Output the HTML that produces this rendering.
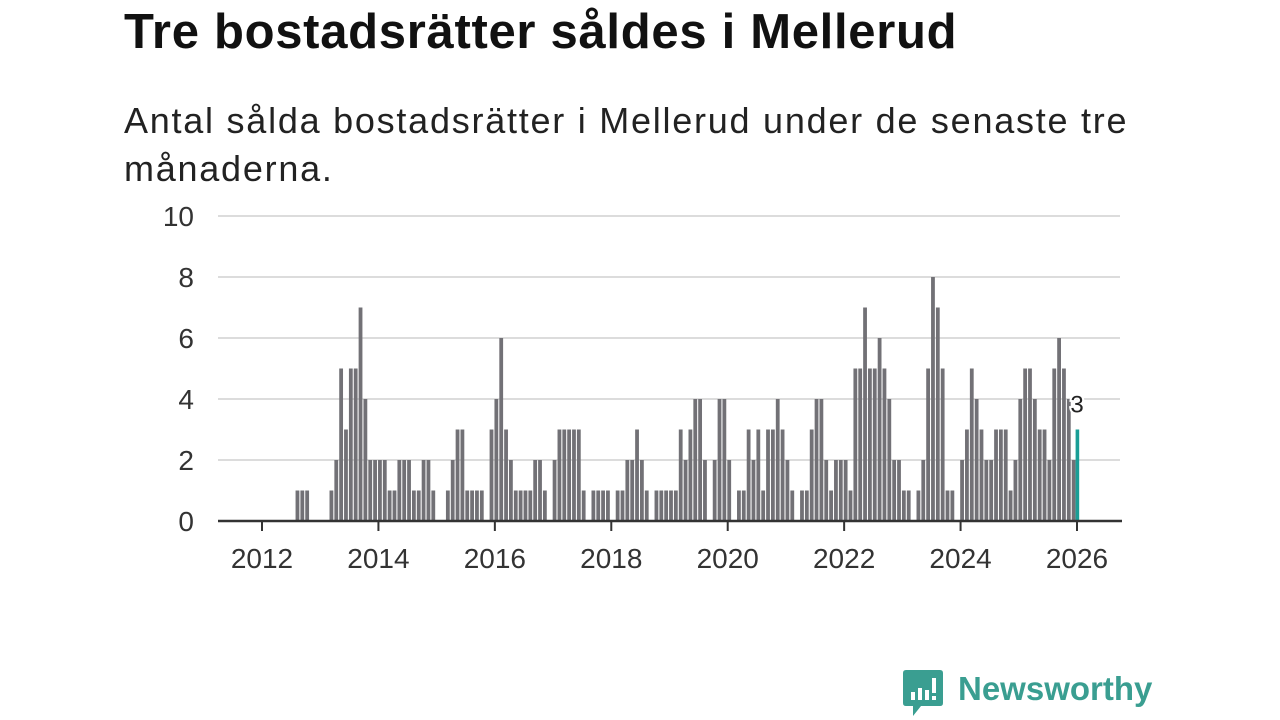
<!DOCTYPE html>
<html><head><meta charset="utf-8">
<style>
body{margin:0;width:1280px;height:720px;background:#fff;overflow:hidden;font-family:"Liberation Sans",sans-serif;}
#title{position:absolute;left:124px;top:4px;font-size:49px;font-weight:bold;color:#111;margin:0;letter-spacing:0.7px;}
#sub{position:absolute;left:124px;top:97px;font-size:36px;color:#222;line-height:48px;width:1040px;margin:0;letter-spacing:1.75px;}
svg{position:absolute;left:0;top:0;}
#logo{position:absolute;left:903px;top:670px;}
#brand{position:absolute;left:958px;top:670px;font-size:33px;font-weight:bold;color:#3a9e91;}
</style></head><body>
<h1 id="title">Tre bostadsrätter såldes i Mellerud</h1>
<p id="sub">Antal sålda bostadsrätter i Mellerud under de senaste tre månaderna.</p>
<svg id="chart" width="1280" height="720"></svg>
<svg id="logo" width="40" height="48" viewBox="0 0 40 48">
<path d="M3 0H37Q40 0 40 3V33Q40 36 37 36H18L10 46V36H3Q0 36 0 33V3Q0 0 3 0Z" fill="#3a9e91"/>
<rect x="8" y="22" width="4" height="8" fill="#fff"/><rect x="15" y="18" width="4" height="12" fill="#fff"/><rect x="22" y="20" width="4" height="10" fill="#fff"/><rect x="29" y="8" width="4" height="15" fill="#fff"/><rect x="29" y="26" width="4" height="4" fill="#fff"/>
</svg>
<div id="brand">Newsworthy</div>
<script>
const startYear = 2012;
const values = [0,0,0,0,0,0,0,1,1,1,0,0,0,0,1,2,5,3,5,5,7,4,2,2,2,2,1,1,2,2,2,1,1,2,2,1,0,0,1,2,3,3,1,1,1,1,0,3,4,6,3,2,1,1,1,1,2,2,1,0,2,3,3,3,3,3,1,0,1,1,1,1,0,1,1,2,2,3,2,1,0,1,1,1,1,1,3,2,3,4,4,2,0,2,4,4,2,0,1,1,3,2,3,1,3,3,4,3,2,1,0,1,1,3,4,4,2,1,2,2,2,1,5,5,7,5,5,6,5,4,2,2,1,1,0,1,2,5,8,7,5,1,1,0,2,3,5,4,3,2,2,3,3,3,1,2,4,5,5,4,3,3,2,5,6,5,4,2,3];
const yTicks = [0,2,4,6,8,10];
const xTickYears = [2012,2014,2016,2018,2020,2022,2024,2026];
const NS="http://www.w3.org/2000/svg";
const svg=document.getElementById('chart');
const x0=262, x1=1077, y0=521, y1=216;
const months=values.length-1;
function xMonth(i){return x0+(x1-x0)*i/months;}
function xYear(y){return xMonth((y-startYear)*12);}
function yv(v){return y0-(y0-y1)*v/10;}
function mk(t,a){const e=document.createElementNS(NS,t);for(const k in a)e.setAttribute(k,a[k]);svg.appendChild(e);return e;}
yTicks.forEach(t=>{
  if(t>0){const g=mk('line',{x1:218,x2:1120,y1:yv(t),y2:yv(t),stroke:'#dcdcdc','stroke-width':2});
  
  }
  const l=mk('text',{x:194,y:yv(t)+10,'text-anchor':'end','font-size':28,fill:'#333','font-family':'Liberation Sans, sans-serif'});
  l.textContent=t;
  
  
});
values.forEach((v,i)=>{
  if(v<=0)return;
  const last=i===values.length-1;
  const b=mk('rect',{x:xMonth(i)-1.4+(last?0:1),y:yv(v),width:last?3.6:3.8,height:y0-yv(v),fill:last?'#1a9e96':'#727176'});
  
  
});
const ax=mk('line',{x1:218,x2:1122,y1:y0,y2:y0,stroke:'#333','stroke-width':2.5});


xTickYears.forEach(y=>{
  const x=xYear(y);
  const tk=mk('line',{x1:x,x2:x,y1:y0,y2:y0+10,stroke:'#333','stroke-width':2});
  
  
  const l=mk('text',{x:x,y:568,'text-anchor':'middle','font-size':28,fill:'#333','font-family':'Liberation Sans, sans-serif'});
  l.textContent=y;
  
  
});
const lv=values[values.length-1];
const lab=mk('text',{x:xMonth(months),y:yv(lv)-17,'text-anchor':'middle','font-size':24,fill:'#222',stroke:'#fff','stroke-width':4,'paint-order':'stroke','font-family':'Liberation Sans, sans-serif'});
lab.textContent=lv;


</script>
</body></html>
